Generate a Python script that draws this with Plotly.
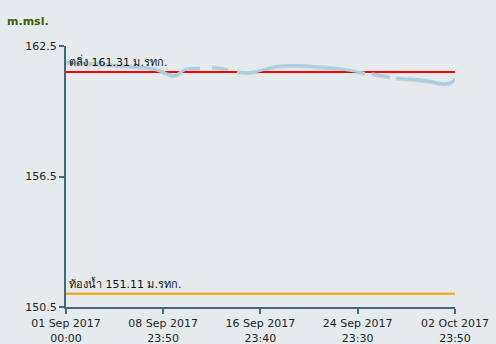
import plotly.graph_objects as go

# ---- data ----
times = [
    "2017-09-01 00:00", "2017-09-02 23:20", "2017-09-05 10:30", "2017-09-07 21:50",
    "2017-09-08 17:30", "2017-09-09 23:00", "2017-09-10 19:00", "2017-09-12 00:30",
    "2017-09-12 12:00",
    "2017-09-13 00:10", "2017-09-13 16:00", "2017-09-14 07:40",
    "2017-09-14 18:00",
    "2017-09-15 01:30", "2017-09-16 03:10", "2017-09-17 02:50", "2017-09-18 04:30",
    "2017-09-19 10:00", "2017-09-20 15:50", "2017-09-21 21:20", "2017-09-23 02:50",
    "2017-09-24 08:40", "2017-09-25 14:10",
    "2017-09-25 20:00",
    "2017-09-26 04:00", "2017-09-27 15:30",
    "2017-09-27 21:00",
    "2017-09-28 03:20", "2017-09-29 07:00", "2017-09-30 12:30", "2017-10-02 00:00",
    "2017-10-02 12:00", "2017-10-02 23:50",
]
water_level = [
    161.74, 161.69, 161.60, 161.48,
    161.35, 161.14, 161.42, 161.48,
    None,
    161.51, 161.48, 161.42,
    None,
    161.32, 161.28, 161.39, 161.55,
    161.60, 161.59, 161.53, 161.48,
    161.38, 161.25,
    None,
    161.22, 161.07,
    None,
    161.02, 160.98, 160.91, 160.77,
    160.79, 160.98,
]

bank_level = 161.31
bed_level = 151.11
bank_label = "ตลิ่ง 161.31 ม.รทก."
bed_label = "ท้องน้ำ 151.11 ม.รทก."

x_start = "2017-09-01 00:00"
x_end = "2017-10-02 23:50"
tick_vals = ["2017-09-01 00:00", "2017-09-08 23:50", "2017-09-16 23:40",
             "2017-09-24 23:30", "2017-10-02 23:50"]
tick_text = ["01 Sep 2017<br>00:00", "08 Sep 2017<br>23:50", "16 Sep 2017<br>23:40",
             "24 Sep 2017<br>23:30", "02 Oct 2017<br>23:50"]
y_ticks = [150.5, 156.5, 162.5]

FONT = "DejaVu Sans, Noto Sans, sans-serif"
AXIS_COLOR = "#3e6a7b"

fig = go.Figure()

# threshold lines
fig.add_trace(go.Scatter(x=[x_start, x_end], y=[bank_level, bank_level], mode="lines",
                         line=dict(color="#ff0000", width=2), hoverinfo="skip", showlegend=False))
fig.add_trace(go.Scatter(x=[x_start, x_end], y=[bed_level, bed_level], mode="lines",
                         line=dict(color="#f4a30b", width=2), hoverinfo="skip", showlegend=False))

# shadow of the series
shadow = [None if v is None else v - 0.05 for v in water_level]
fig.add_trace(go.Scatter(x=times, y=shadow, mode="lines", connectgaps=False,
                         line=dict(color="rgba(0,0,0,0.10)", width=3, shape="spline"),
                         hoverinfo="skip", showlegend=False))
# water level series
fig.add_trace(go.Scatter(x=times, y=water_level, mode="lines", connectgaps=False,
                         line=dict(color="#a7d0e3", width=3, shape="spline"),
                         showlegend=False))

fig.add_annotation(x=x_start, y=bank_level, xref="x", yref="y", text=bank_label,
                   showarrow=False, xanchor="left", yanchor="bottom", xshift=1, yshift=1,
                   font=dict(family=FONT, size=11, color="#111111"))
fig.add_annotation(x=x_start, y=bed_level, xref="x", yref="y", text=bed_label,
                   showarrow=False, xanchor="left", yanchor="bottom", xshift=1, yshift=1,
                   font=dict(family=FONT, size=11, color="#111111"))
fig.add_annotation(x=0, y=1, xref="paper", yref="paper", text="<b>m.msl.</b>",
                   showarrow=False, xanchor="left", yanchor="bottom",
                   xshift=-61, yshift=16,
                   font=dict(family=FONT, size=11, color="#3b5e0b"))

fig.update_layout(
    width=496, height=344,
    margin=dict(l=66, r=41, t=46, b=37),
    paper_bgcolor="#e5ebed",
    plot_bgcolor="#e5ebed",
    font=dict(family=FONT, size=11, color="#333333"),
    xaxis=dict(type="date", range=[x_start, x_end], tickvals=tick_vals, ticktext=tick_text,
               automargin=False,
               showgrid=False, zeroline=False, showline=True, linecolor=AXIS_COLOR,
               linewidth=2, ticks="outside", ticklen=5, tickwidth=2, tickcolor=AXIS_COLOR,
               tickfont=dict(family=FONT, size=11, color="#222222")),
    yaxis=dict(range=[150.5, 162.5], tickvals=y_ticks, ticktext=[f"{v:.1f}" for v in y_ticks],
               automargin=False,
               showgrid=False, zeroline=False, showline=True, linecolor=AXIS_COLOR,
               linewidth=2, ticks="outside", ticklen=5, tickwidth=2, tickcolor=AXIS_COLOR,
               tickfont=dict(family=FONT, size=11, color="#222222")),
)

fig.write_html("out.html")
